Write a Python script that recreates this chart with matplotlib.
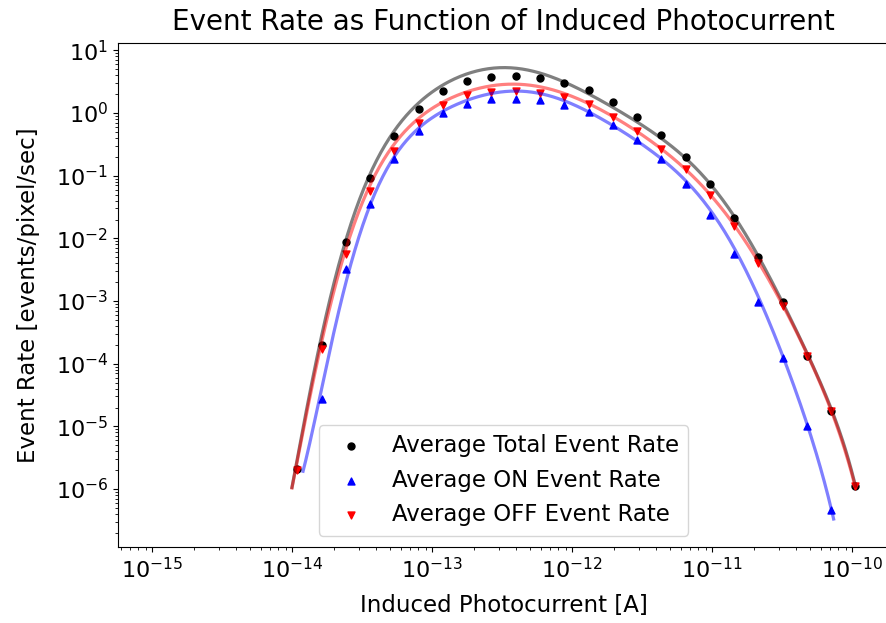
import numpy as np
import matplotlib
matplotlib.use("Agg")
import matplotlib.pyplot as plt

# measured photocurrent [A]
current = [1.09e-14, 1.63e-14, 2.43e-14, 3.61e-14, 5.39e-14, 8.04e-14,
           1.20e-13, 1.79e-13, 2.66e-13, 3.97e-13, 5.92e-13, 8.82e-13,
           1.32e-12, 1.96e-12, 2.92e-12, 4.36e-12, 6.49e-12, 9.68e-12,
           1.44e-11, 2.15e-11, 3.21e-11, 4.78e-11, 7.13e-11, 1.06e-10]

# average event rates [events/pixel/sec]
rate_total = [2.1e-6, 1.96e-4, 8.9e-3, 0.0906, 0.43, 1.18,
              2.26, 3.26, 3.81, 3.96, 3.67, 3.06,
              2.32, 1.51, 0.88, 0.45, 0.20, 0.0726,
              0.0214, 5.0e-3, 9.5e-4, 1.33e-4, 1.77e-5, 1.13e-6]
rate_on = [np.nan, 2.7e-5, 3.3e-3, 0.036, 0.185, 0.52,
           1.0, 1.40, 1.66, 1.70, 1.62, 1.35,
           1.02, 0.65, 0.37, 0.185, 0.075, 0.0233,
           5.7e-3, 9.7e-4, 1.25e-4, 1.02e-5, 4.7e-7, np.nan]
rate_off = [2.0e-6, 1.7e-4, 5.7e-3, 0.056, 0.25, 0.69,
            1.32, 1.95, 2.20, 2.26, 2.12, 1.83,
            1.38, 0.88, 0.52, 0.27, 0.128, 0.049,
            0.0156, 4.0e-3, 8.3e-4, 1.33e-4, 1.77e-5, 1.10e-6]

# fitted curves
fit_x = [1.0e-14] + current
fit_total = [1.1e-6, 2.9e-6, 2.63e-4, 0.0107, 0.104, 0.507,
             1.35, 2.92, 4.32, 5.38, 5.25, 4.21,
             2.99, 2.00, 1.21, 0.752, 0.413, 0.191,
             0.0693, 0.0220, 5.19e-3, 9.95e-4, 1.41e-4, 1.88e-5, 1.12e-6]
fit_off = [1.08e-6, 2.69e-6, 2.11e-4, 7.67e-3, 0.0676, 0.312,
           0.80, 1.47, 2.40, 2.81, 2.81, 2.49,
           1.95, 1.44, 0.935, 0.521, 0.259, 0.125,
           0.0481, 0.0166, 4.31e-3, 8.83e-4, 1.33e-4, 1.83e-5, 1.04e-6]
fit_on_x = [1.2e-14] + current[1:23] + [7.4e-11]
fit_on = [2.08e-6, 3.14e-5, 2.65e-3, 0.0345, 0.173, 0.502,
          1.17, 1.83, 2.18, 2.10, 1.88, 1.47,
          1.06, 0.690, 0.374, 0.180, 0.0811, 0.0288,
          6.64e-3, 1.20e-3, 1.41e-4, 1.02e-5, 4.63e-7, 3.45e-7]


def smooth_fit(xs, ys, deg=9):
    # polynomial fit in log-log space, drawn as a smooth line
    lx, ly = np.log10(xs), np.log10(ys)
    p = np.polyfit(lx, ly, deg)
    xx = np.linspace(lx[0], lx[-1], 400)
    return 10 ** xx, 10 ** np.polyval(p, xx)


plt.rcParams['font.size'] = 16

fig = plt.figure(figsize=(8.87, 6.23), dpi=100)
ax = fig.add_axes([118 / 887, 76 / 623, 771 / 887, 504 / 623])

ax.scatter(current, rate_total, s=25, c="black", marker="o", label="Average Total Event Rate")
ax.scatter(current, rate_on, s=25, c="blue", marker="^", label="Average ON Event Rate")
ax.scatter(current, rate_off, s=25, c="red", marker="v", label="Average OFF Event Rate")

ax.plot(*smooth_fit(fit_x, fit_total), color="black", alpha=0.5, lw=2.3)
ax.plot(*smooth_fit(fit_on_x, fit_on), color="blue", alpha=0.5, lw=2.3)
ax.plot(*smooth_fit(fit_x, fit_off), color="red", alpha=0.5, lw=2.3)

ax.set_xscale("log")
ax.set_yscale("log")
ax.set_xlim(5.72e-16, 1.84e-10)
ax.set_ylim(1.19e-7, 13.1)

ax.set_title("Event Rate as Function of Induced Photocurrent", fontsize=20, pad=9)
ax.set_xlabel("Induced Photocurrent [A]", fontsize=16.5, labelpad=9)
ax.set_ylabel("Event Rate [events/pixel/sec]", fontsize=16.5, labelpad=11)
ax.legend(loc="lower center", fontsize=16.5)

fig.savefig("out.png", dpi=100)
